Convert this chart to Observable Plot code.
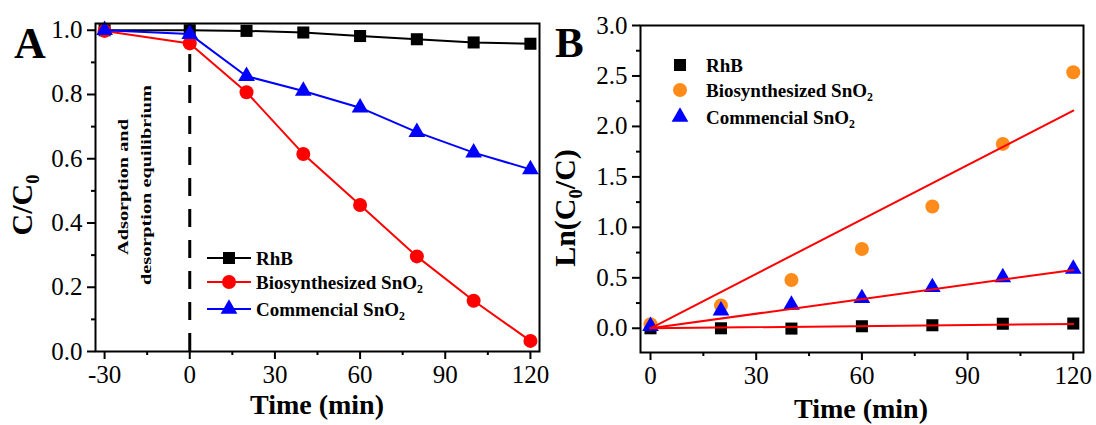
<!DOCTYPE html>
<html><head><meta charset="utf-8">
<script src="https://cdn.jsdelivr.net/npm/d3@7"></script>
<script src="https://cdn.jsdelivr.net/npm/@observablehq/plot@0.6"></script>
<style>
body{margin:0;background:#fff;}
#wrap{position:relative;width:1096px;height:425px;overflow:hidden;background:#fff;}
#wrap svg{position:absolute;top:0;}
</style></head><body><div id="wrap"></div>
<script>
// ---------- data ----------
const seriesNames = ["RhB", "Biosynthesized SnO2", "Commencial SnO2"];

// Panel A: C/C0 vs time
const timesA = [-30, 0, 20, 40, 60, 80, 100, 120];
const rhbA = [1.0, 1.0, 0.998, 0.993, 0.982, 0.972, 0.962, 0.958];
const bioA = [0.998, 0.959, 0.807, 0.615, 0.456, 0.296, 0.158, 0.033];
const comA = [1.0, 0.988, 0.857, 0.811, 0.759, 0.683, 0.619, 0.567];
const equilibriumTime = [0];
const xTicksA = [-30, 0, 30, 60, 90, 120];
const xMinorA = [-15, 15, 45, 75, 105];
const yTicksA = [0, 0.2, 0.4, 0.6, 0.8, 1.0];
const yMinorA = [0.1, 0.3, 0.5, 0.7, 0.9];

// Panel B: Ln(C0/C) vs time
const timesB = [0, 20, 40, 60, 80, 100, 120];
const rhbB = [0, 0, -0.003, 0.02, 0.03, 0.045, 0.047];
const bioB = [0.04, 0.225, 0.479, 0.786, 1.206, 1.827, 2.537];
const comB = [0.02, 0.175, 0.231, 0.297, 0.406, 0.505, 0.588];
const fitTimes = [0, 120];
const fitRhB = [0, 0.043];
const fitBio = [0, 2.157];
const fitCom = [0, 0.578];
const xTicksB = [0, 30, 60, 90, 120];
const xMinorB = [15, 45, 75, 105];
const yTicksB = [0, 0.5, 1.0, 1.5, 2.0, 2.5, 3.0];
const yMinorB = [0.25, 0.75, 1.25, 1.75, 2.25, 2.75];

// ---------- styles ----------
const FONT = "'Liberation Serif','Times New Roman',Times,serif";
const colorsA = ["#000000", "#ff0000", "#0000ff"];
const colorsB = ["#000000", "#ff8c1a", "#0000ff"];
const symbols = ["square", "circle", "triangle"];
const radii = [6.8, 7, 6.2];

const tableA = seriesNames.flatMap((s, i) => timesA.map((t, j) => ({series: s, k: i, time: t, value: [rhbA, bioA, comA][i][j]})));
const tableB = seriesNames.flatMap((s, i) => timesB.map((t, j) => ({series: s, k: i, time: t, value: [rhbB, bioB, comB][i][j]})));
const fitTable = seriesNames.flatMap((s, i) => fitTimes.map((t, j) => ({series: s, k: i, time: t, value: [fitRhB, fitBio, fitCom][i][j]})));

function axes(xT, xM, yT, yM, fmtY) {
  return [
    Plot.axisX({ticks: xT, tickSize: 8, tickPadding: 6, strokeWidth: 2, tickFormat: d => String(d), label: null, fontSize: 25}),
    Plot.axisX({ticks: xM, tickSize: 4, strokeWidth: 2, tickFormat: () => "", label: null}),
    Plot.axisY({ticks: yT, tickSize: 8, tickPadding: 5, strokeWidth: 2, tickFormat: fmtY, label: null, fontSize: 25}),
    Plot.axisY({ticks: yM, tickSize: 4, strokeWidth: 2, tickFormat: () => "", label: null}),
    Plot.frame({stroke: "black", strokeWidth: 2})
  ];
}

const style = {fontFamily: FONT, fontSize: "25px", color: "black", background: "transparent", overflow: "visible"};

const plotA = Plot.plot({
  width: 548, height: 425,
  marginLeft: 95, marginRight: 9, marginTop: 23, marginBottom: 74,
  x: {domain: [-33.2, 123.2]},
  y: {domain: [0, 1.021]},
  style,
  marks: [
    Plot.ruleX(equilibriumTime, {stroke: "black", strokeWidth: 3, strokeDasharray: "18,13"}),
    ...[0, 1, 2].flatMap(i => [
      Plot.line(tableA.filter(d => d.k === i), {x: "time", y: "value", stroke: colorsA[i], strokeWidth: 2}),
      Plot.dot(tableA.filter(d => d.k === i), {x: "time", y: "value", fill: colorsA[i], symbol: symbols[i], r: radii[i]})
    ]),
    ...axes(xTicksA, xMinorA, yTicksA, yMinorA, d3.format(".1f"))
  ]
});

const plotB = Plot.plot({
  width: 548, height: 425,
  marginLeft: 92, marginRight: 13, marginTop: 25, marginBottom: 73,
  x: {domain: [-2.84, 122.9]},
  y: {domain: [-0.24, 3.0]},
  style,
  marks: [
    ...[0, 1, 2].map(i => Plot.dot(tableB.filter(d => d.k === i), {x: "time", y: "value", fill: colorsB[i], symbol: symbols[i], r: radii[i]})),
    ...[0, 1, 2].map(i => Plot.line(fitTable.filter(d => d.k === i), {x: "time", y: "value", stroke: "#ff0000", strokeWidth: 2})),
    ...axes(xTicksB, xMinorB, yTicksB, yMinorB, d3.format(".1f"))
  ]
});

const wrap = document.getElementById("wrap");
plotA.style.left = "0px";
plotB.style.left = "548px";
wrap.appendChild(plotA);
wrap.appendChild(plotB);

// ---------- text helpers ----------
function addText(svg, o, parts) {
  const t = d3.select(svg).append("text")
    .attr("transform", `translate(${o.x},${o.y}) rotate(${o.rotate || 0}) scale(${o.sx || 1},1)`)
    .attr("text-anchor", o.anchor || "start")
    .attr("font-family", FONT).attr("font-size", o.size)
    .attr("font-weight", o.weight || "bold").attr("fill", "black");
  let shifted = 0;
  for (const p of parts) {
    const ts = t.append("tspan").text(p.t);
    if (p.sub) { ts.attr("font-size", o.size * 0.62).attr("dy", o.size * 0.22); shifted = o.size * 0.22; }
    else if (shifted) { ts.attr("dy", -shifted); shifted = 0; }
  }
  return t;
}
const legendParts = [[{t: "RhB"}], [{t: "Biosynthesized SnO"}, {t: "2", sub: true}], [{t: "Commencial SnO"}, {t: "2", sub: true}]];

function legend(svg, o) {
  const g = d3.select(svg).append("g");
  o.rows.forEach((ry, i) => {
    if (o.lines) g.append("line").attr("x1", o.lx1).attr("x2", o.lx2).attr("y1", ry).attr("y2", ry)
      .attr("stroke", o.colors[i]).attr("stroke-width", 2);
    const sym = [d3.symbolSquare, d3.symbolCircle, d3.symbolTriangle][i];
    g.append("path").attr("d", d3.symbol(sym, Math.PI * radii[i] * radii[i])())
      .attr("transform", `translate(${o.mx},${ry})`).attr("fill", o.colors[i]);
    addText(svg, {x: o.tx, y: ry + 7, size: 19}, legendParts[i]);
  });
}

// Panel A texts
addText(plotA, {x: 14, y: 58, size: 44}, [{t: "A"}]);
addText(plotA, {x: 32, y: 205, rotate: -90, size: 30, anchor: "middle"}, [{t: "C/C"}, {t: "0", sub: true}]);
addText(plotA, {x: 317, y: 414, size: 28, anchor: "middle"}, [{t: "Time (min)"}]);
addText(plotA, {x: 128, y: 187, rotate: -90, size: 14.5, anchor: "middle", sx: 1.4}, [{t: "Adsorption and"}]);
addText(plotA, {x: 151, y: 185, rotate: -90, size: 14.5, anchor: "middle", sx: 1.4}, [{t: "desorption equilibrium"}]);
legend(plotA, {rows: [258, 282, 309], lines: true, lx1: 207, lx2: 251, mx: 229, tx: 256, colors: colorsA});

// Panel B texts
addText(plotB, {x: 7, y: 57, size: 43}, [{t: "B"}]);
addText(plotB, {x: 27, y: 208, rotate: -90, size: 30, anchor: "middle"}, [{t: "Ln(C"}, {t: "0", sub: true}, {t: "/C)"}]);
addText(plotB, {x: 313, y: 418, size: 28, anchor: "middle"}, [{t: "Time (min)"}]);
legend(plotB, {rows: [65, 90, 117], lines: false, mx: 132, tx: 158, colors: colorsB});
</script></body></html>
